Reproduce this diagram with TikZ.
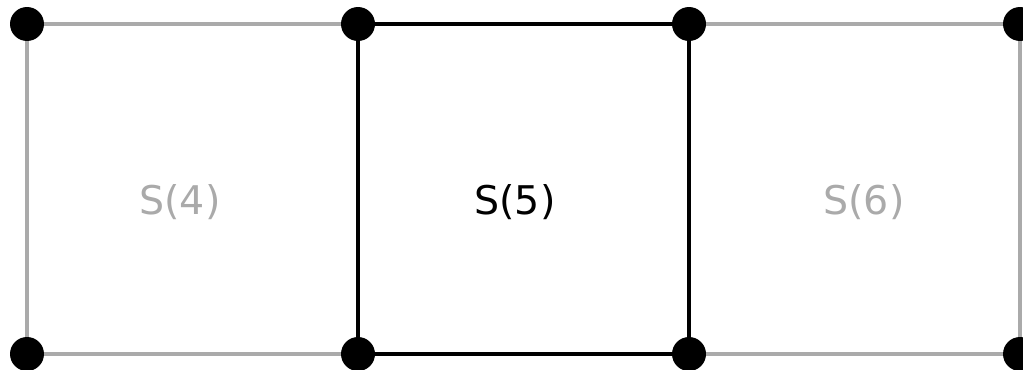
\documentclass[tikz,border=0pt]{standalone}
\usepackage{fontspec}
\setmainfont{DejaVu Sans}
\usepackage{tikz}
\usetikzlibrary{positioning}
\usepackage{xcolor}
\definecolor{faded}{HTML}{AAAAAA}

\begin{document}
\begin{tikzpicture}[x=0.02cm, y=0.02cm,
          corner/.style={circle, fill=black, inner sep=0pt, minimum size=0.68cm},
          faint/.style={draw=faded, line width=2.4pt},
          main/.style={draw=black, line width=2.4pt},
          lbl/.style={font=\fontsize{22.5}{27}\selectfont}]
        \useasboundingbox (0,0) rectangle (1023,369);
        \node[corner] (t1) at (27,345) {};
        \node[corner] (t2) at (358,345) {};
        \node[corner] (t3) at (689,345) {};
        \node[corner] (t4) at (1020,345) {};
        \node[corner] (b1) at (27,15) {};
        \node[corner] (b2) at (358,15) {};
        \node[corner] (b3) at (689,15) {};
        \node[corner] (b4) at (1020,15) {};
        \draw[faint] (t1) -- (t2);
        \draw[faint] (b1) -- (b2);
        \draw[faint] (t1) -- (b1);
        \draw[faint] (t3) -- (t4);
        \draw[faint] (b3) -- (b4);
        \draw[faint] (t4) -- (b4);
        \draw[main] (t2) -- (t3);
        \draw[main] (b2) -- (b3);
        \draw[main] (t2) -- (b2);
        \draw[main] (t3) -- (b3);
        \node[lbl, text=faded] (s4) at (180,167) {S(4)};
        \node[lbl] (s5) at (515,167) {S(5)};
        \node[lbl, text=faded] (s6) at (864,167) {S(6)};
      \end{tikzpicture}
\end{document}
